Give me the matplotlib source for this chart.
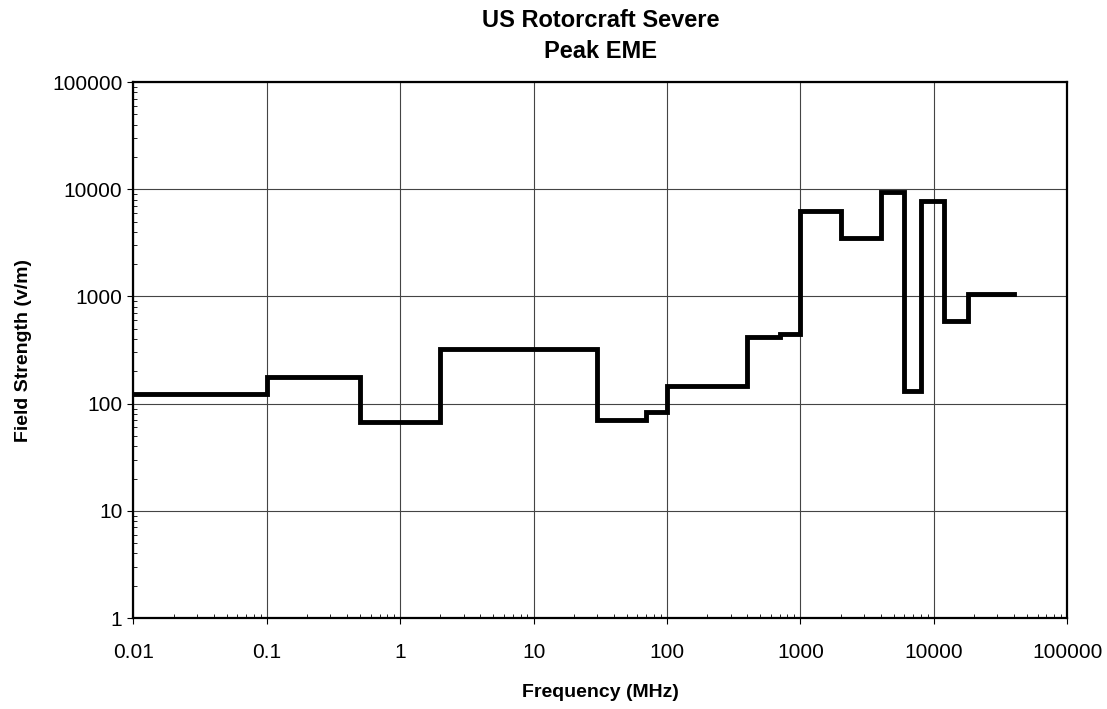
import numpy as np
import matplotlib
matplotlib.use("Agg")
import matplotlib.pyplot as plt
from matplotlib.ticker import FixedLocator, FixedFormatter, LogLocator, NullFormatter

# Data: band edges (MHz) and peak field strength (V/m)
freq_edges = [0.01, 0.1, 0.5, 2, 30, 70, 100, 400, 700, 1000, 2000, 4000,
              6000, 8000, 12000, 18000, 40000]
field = [124, 178, 68, 320, 71, 84, 145, 415, 445, 6300, 3500, 9500,
         132, 7800, 590, 1060]

x_ticks = [0.01, 0.1, 1, 10, 100, 1000, 10000, 100000]
x_labels = ["0.01", "0.1", "1", "10", "100", "1000", "10000", "100000"]
y_ticks = [1, 10, 100, 1000, 10000, 100000]
y_labels = ["1", "10", "100", "1000", "10000", "100000"]

plt.rcParams['font.family'] = ['Liberation Sans', 'DejaVu Sans']

fig = plt.figure(figsize=(11.07, 7.09), dpi=100)
ax = fig.add_axes([0.1205, 0.1283, 0.8435, 0.756])

yvals = field + [field[-1]]
ax.step(freq_edges, yvals, where='post', color='black', lw=3.5,
        solid_joinstyle='miter')

ax.set_xscale('log')
ax.set_yscale('log')
ax.set_xlim(0.01, 100000)
ax.set_ylim(1, 100000)

ax.xaxis.set_major_locator(FixedLocator(x_ticks))
ax.xaxis.set_major_formatter(FixedFormatter(x_labels))
ax.yaxis.set_major_locator(FixedLocator(y_ticks))
ax.yaxis.set_major_formatter(FixedFormatter(y_labels))
ax.xaxis.set_minor_locator(LogLocator(base=10, subs=np.arange(2, 10), numticks=20))
ax.yaxis.set_minor_locator(LogLocator(base=10, subs=np.arange(2, 10), numticks=20))
ax.xaxis.set_minor_formatter(NullFormatter())
ax.yaxis.set_minor_formatter(NullFormatter())

ax.grid(True, which='major', color='#444444', lw=0.8)
ax.tick_params(axis='x', which='major', direction='out', length=4, labelsize=15, pad=14)
ax.tick_params(axis='y', which='major', direction='out', length=4, labelsize=15, pad=4)
ax.tick_params(which='minor', direction='in', length=3, width=0.6)
for s in ax.spines.values():
    s.set_linewidth(1.6)

ax.set_xlabel("Frequency (MHz)", fontsize=14, fontweight='bold', labelpad=16)
ax.set_ylabel("Field Strength (v/m)", fontsize=14, fontweight='bold', labelpad=14)
ax.set_title("US Rotorcraft Severe\nPeak EME", fontsize=17, fontweight='bold',
             pad=17, linespacing=1.45)

fig.savefig("out.png", dpi=100)
